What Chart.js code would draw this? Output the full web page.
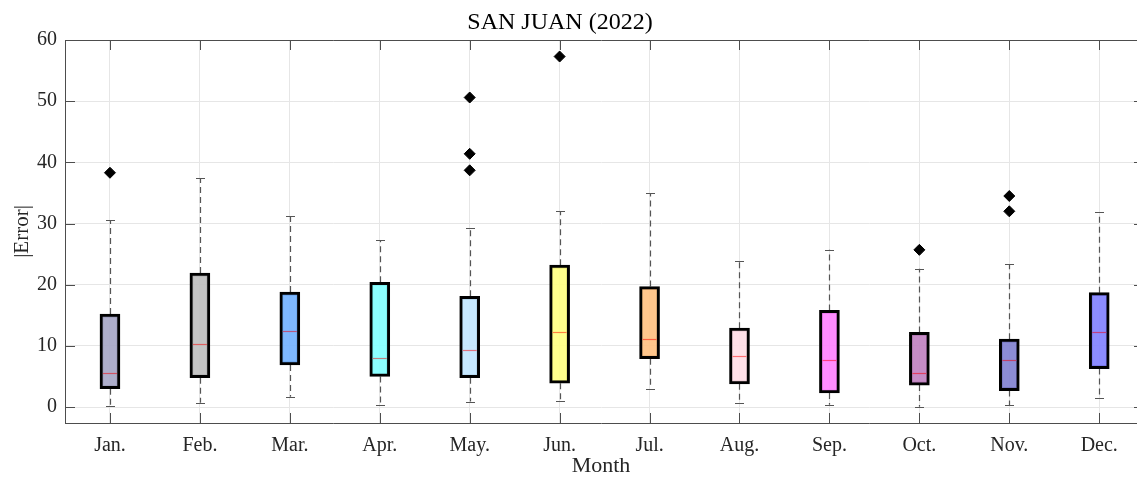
<!DOCTYPE html>
<html>
<head>
<meta charset="utf-8">
<script src="https://cdn.jsdelivr.net/npm/chart.js@4.4.0/dist/chart.umd.min.js"></script>
<style>
  html, body { margin: 0; padding: 0; background: #fff; overflow: hidden; }
  #box-canvas { display: block; }
</style>
</head>
<body>
<canvas id="box-canvas" width="1137" height="477"></canvas>
<script>
var chartTitle = 'SAN JUAN (2022)';
var months = ['Jan.', 'Feb.', 'Mar.', 'Apr.', 'May.', 'Jun.', 'Jul.', 'Aug.', 'Sep.', 'Oct.', 'Nov.', 'Dec.'];

// box plot stats per month
var whiskerLow  = [0.2, 0.7, 1.7, 0.4, 0.9, 1.0, 3.0, 0.65, 0.4, 0.05, 0.3, 1.5];
var q1          = [3.0, 4.8, 6.9, 5.0, 4.8, 3.9, 7.9, 3.8, 2.3, 3.6, 2.7, 6.3];
var median      = [5.5, 10.3, 12.5, 8.0, 9.4, 12.3, 11.2, 8.4, 7.7, 5.6, 7.7, 12.3];
var q3          = [15.2, 21.9, 18.8, 20.4, 18.1, 23.2, 19.7, 12.9, 15.8, 12.2, 11.1, 18.7];
var whiskerHigh = [30.5, 37.4, 31.2, 27.3, 29.2, 32.0, 35.0, 23.9, 25.7, 22.6, 23.4, 31.9];

// outliers: month number + value
var outlierMonth = [1, 5, 5, 5, 6, 10, 11, 11];
var outlierValue = [38.3, 50.6, 41.4, 38.7, 57.3, 25.7, 34.5, 32.0];

var yTicks = [0, 10, 20, 30, 40, 50, 60];

var boxColors = [
  [165, 165, 197], [190, 190, 190], [112, 176, 255], [128, 255, 255],
  [192, 230, 255], [255, 255, 128], [255, 192, 128], [255, 221, 229],
  [255, 128, 255], [192, 128, 192], [128, 128, 208], [128, 128, 255]
];

var serif = 'Liberation Serif';
var axisGray = '#4d4d4d';
// the axes box ends at 12.5, a little past the right edge of the picture
var xBoxEnd = 12.5;

function rgba(c, a) {
  return 'rgba(' + c[0] + ',' + c[1] + ',' + c[2] + ',' + a + ')';
}

function medianColor(c) {
  // red line seen through the half transparent box
  return 'rgb(' + Math.round((c[0] + 255) / 2) + ',' + Math.round(c[1] / 2) + ',' + Math.round(c[2] / 2) + ')';
}

// whiskers under the boxes, medians on top
var boxParts = {
  id: 'boxParts',
  beforeDatasetsDraw: function(chart) {
    var ctx = chart.ctx, xs = chart.scales.x, ys = chart.scales.y;
    ctx.save();
    ctx.strokeStyle = '#555';
    ctx.lineWidth = 1.2;
    for (var i = 0; i < months.length; i++) {
      var x = Math.round(xs.getPixelForValue(i + 1)) + 0.5;
      ctx.setLineDash([6, 4]);
      ctx.beginPath();
      ctx.moveTo(x, ys.getPixelForValue(q3[i]));
      ctx.lineTo(x, ys.getPixelForValue(whiskerHigh[i]));
      ctx.moveTo(x, ys.getPixelForValue(q1[i]));
      ctx.lineTo(x, ys.getPixelForValue(whiskerLow[i]));
      ctx.stroke();
      ctx.setLineDash([]);
      ctx.beginPath();
      var yh = Math.round(ys.getPixelForValue(whiskerHigh[i])) + 0.5;
      var yl = Math.round(ys.getPixelForValue(whiskerLow[i])) + 0.5;
      ctx.moveTo(x - 4.5, yh); ctx.lineTo(x + 4.5, yh);
      ctx.moveTo(x - 4.5, yl); ctx.lineTo(x + 4.5, yl);
      ctx.stroke();
    }
    ctx.restore();
  },
  afterDatasetsDraw: function(chart) {
    var ctx = chart.ctx, xs = chart.scales.x, ys = chart.scales.y;
    ctx.save();
    ctx.lineWidth = 1.2;
    for (var i = 0; i < months.length; i++) {
      var x = xs.getPixelForValue(i + 1);
      var y = Math.round(ys.getPixelForValue(median[i])) + 0.5;
      ctx.strokeStyle = medianColor(boxColors[i]);
      ctx.beginPath();
      ctx.moveTo(x - 7, y);
      ctx.lineTo(x + 7, y);
      ctx.stroke();
    }
    ctx.restore();
  }
};

// matlab style box with inward ticks on all sides, plus the title
var axesBox = {
  id: 'axesBox',
  afterDraw: function(chart) {
    var ctx = chart.ctx, a = chart.chartArea, xs = chart.scales.x, ys = chart.scales.y;
    var len = 10;
    var right = Math.round(xs.getPixelForValue(xBoxEnd));
    ctx.save();
    ctx.strokeStyle = axisGray;
    ctx.lineWidth = 1;
    ctx.beginPath();
    ctx.moveTo(a.left, a.top + 0.5); ctx.lineTo(right, a.top + 0.5);
    ctx.moveTo(right - 0.5, a.top); ctx.lineTo(right - 0.5, a.bottom);
    for (var i = 0; i < yTicks.length; i++) {
      var y = Math.round(ys.getPixelForValue(yTicks[i])) + 0.5;
      ctx.moveTo(a.left, y); ctx.lineTo(a.left + len, y);
      ctx.moveTo(right, y); ctx.lineTo(right - len, y);
    }
    for (var j = 0; j < months.length; j++) {
      var x = Math.round(xs.getPixelForValue(j + 1)) + 0.5;
      ctx.moveTo(x, a.bottom); ctx.lineTo(x, a.bottom - len);
      ctx.moveTo(x, a.top); ctx.lineTo(x, a.top + len);
    }
    ctx.stroke();

    ctx.fillStyle = '#000';
    ctx.font = '24px "' + serif + '"';
    ctx.textAlign = 'center';
    ctx.textBaseline = 'middle';
    ctx.fillText(chartTitle, 560, 23);
    ctx.restore();
  }
};

new Chart(document.getElementById('box-canvas'), {
  type: 'bar',
  data: {
    datasets: [{
      type: 'bar',
      data: months.map(function(m, i) { return { x: i + 1, y: [q1[i], q3[i]] }; }),
      backgroundColor: boxColors.map(function(c) { return rgba(c, 0.9); }),
      borderColor: '#000',
      borderWidth: 3,
      borderSkipped: false,
      barThickness: 20,
      order: 2
    }, {
      type: 'scatter',
      data: outlierMonth.map(function(m, i) { return { x: m, y: outlierValue[i] }; }),
      pointStyle: 'rectRot',
      pointRadius: 5.5,
      backgroundColor: '#000',
      borderColor: '#000',
      order: 1
    }]
  },
  options: {
    responsive: false,
    animation: false,
    layout: { autoPadding: false, padding: { left: 0, right: 0, top: 40, bottom: 0 } },
    plugins: {
      legend: { display: false },
      tooltip: { enabled: false },
      title: { display: false }
    },
    scales: {
      x: {
        type: 'linear',
        min: 0.5,
        max: 12.42,
        offset: false,
        border: { display: true, color: axisGray, width: 1 },
        grid: { color: '#e6e6e6', drawTicks: false, offset: false },
        afterBuildTicks: function(s) {
          s.ticks = months.map(function(m, i) { return { value: i + 1 }; });
        },
        ticks: {
          autoSkip: false,
          maxRotation: 0,
          padding: 11,
          color: '#262626',
          font: { family: serif, size: 20 },
          callback: function(v) { return months[Math.round(v) - 1] || ''; }
        },
        title: {
          display: true,
          text: 'Month',
          color: '#262626',
          font: { family: serif, size: 22, lineHeight: 1 },
          padding: { top: 0, bottom: 0 }
        },
        afterFit: function(s) {
          s.height = 54;
          s.paddingLeft = 0;
          s.paddingRight = 0;
        }
      },
      y: {
        min: -2.6,
        max: 60,
        border: { display: true, color: axisGray, width: 1 },
        grid: { color: '#e6e6e6', drawTicks: false },
        afterBuildTicks: function(s) {
          s.ticks = yTicks.map(function(v) { return { value: v }; });
        },
        ticks: {
          padding: 8,
          color: '#262626',
          font: { family: serif, size: 20 }
        },
        title: {
          display: true,
          text: '|Error|',
          color: '#262626',
          font: { family: serif, size: 21 },
          padding: { top: 10, bottom: 0 }
        },
        afterFit: function(s) {
          s.width = 65;
          s.paddingTop = 0;
          s.paddingBottom = 0;
        }
      }
    }
  },
  plugins: [boxParts, axesBox]
});
</script>
</body>
</html>
